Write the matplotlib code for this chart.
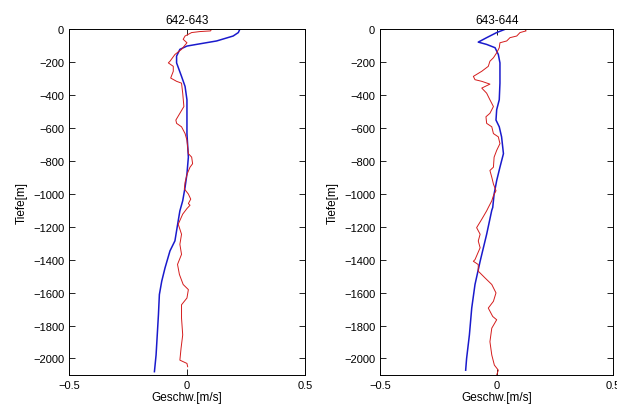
import numpy as np
import matplotlib.pyplot as plt

plt.rcParams['font.family'] = ['Liberation Sans', 'DejaVu Sans']

# Profile 642-643: velocity (m/s) vs depth (m)
blue1_v = [0.225, 0.218, 0.196, 0.126, 0.04, 0.0, -0.03, -0.044, -0.044, -0.023, -0.008, 0.0,
           0.0, 0.006, 0.0, -0.008, -0.018, -0.03, -0.037, -0.051, -0.072, -0.093, -0.107,
           -0.117, -0.121, -0.126, -0.131, -0.138]
blue1_z = [0, -22, -43, -73, -94, -104, -124, -165, -206, -288, -349, -430,
           -635, -778, -880, -961, -1043, -1104, -1164, -1286, -1347, -1450, -1531,
           -1612, -1735, -1857, -1979, -2080]

red1_v = [0.105, 0.1, 0.055, 0.02, -0.008, -0.016, 0.0, -0.023, -0.051, -0.072, -0.079, -0.058,
          -0.058, -0.069, -0.044, -0.023, -0.018, -0.013, -0.03, -0.047, -0.044, -0.023, -0.008,
          0.0, 0.006, 0.02, 0.024, 0.013, 0.001, -0.008, -0.011, 0.006, 0.016, 0.006, 0.013,
          0.0, -0.018, -0.037, -0.023, -0.03, -0.023, -0.04, -0.032, -0.016, 0.006, 0.0,
          -0.023, -0.023, -0.018, -0.025, -0.03, 0.0, 0.003]
red1_z = [0, -12, -16, -22, -43, -63, -84, -124, -155, -196, -206, -227,
          -257, -298, -318, -329, -390, -471, -512, -553, -573, -594, -635,
          -675, -757, -778, -818, -839, -880, -931, -971, -1002, -1033, -1060, -1070,
          -1090, -1124, -1185, -1246, -1307, -1368, -1429, -1490, -1551, -1582, -1633,
          -1674, -1755, -1857, -1938, -2010, -2030, -2050]

# Profile 643-644
blue2_v = [0.04, 0.0, -0.043, -0.079, -0.043, -0.007, 0.007, 0.014, 0.014, 0.011, 0.0, -0.003,
           0.011, 0.021, 0.029, 0.014, 0.0, -0.011, -0.017, -0.021, -0.043, -0.071, -0.093,
           -0.107, -0.117, -0.129, -0.133]
blue2_z = [0, -22, -53, -80, -94, -114, -155, -206, -329, -430, -490, -553,
           -594, -655, -757, -839, -920, -1002, -1084, -1100, -1246, -1410, -1551,
           -1694, -1857, -2000, -2071]

red2_v = [0.121, 0.126, 0.1, 0.086, 0.057, 0.043, 0.014, 0.011, 0.0, -0.014, -0.029, -0.036,
          -0.064, -0.1, -0.093, -0.064, -0.029, -0.064, -0.043, -0.029, -0.014, -0.029, -0.046,
          -0.043, -0.021, -0.014, 0.007, 0.014, 0.0, -0.011, -0.014, -0.029, -0.021, -0.014,
          -0.003, -0.014, -0.021, -0.036, -0.043, -0.064, -0.086, -0.071, -0.079, -0.071,
          -0.093, -0.1, -0.079, -0.079, -0.05, -0.021, -0.003, -0.014, -0.036, -0.017, 0.0,
          -0.021, -0.029, -0.021, -0.01, 0.007, 0.0]
red2_z = [0, -12, -22, -43, -53, -73, -84, -114, -145, -175, -196, -227,
          -257, -288, -308, -318, -335, -359, -390, -430, -471, -512, -533,
          -573, -594, -635, -655, -696, -737, -778, -839, -859, -900, -941,
          -982, -1012, -1043, -1084, -1104, -1155, -1206, -1246, -1287, -1328,
          -1400, -1410, -1430, -1470, -1511, -1551, -1602, -1653, -1694, -1745, -1765,
          -1816, -1898, -1979, -2040, -2071, -2100]

fig = plt.figure(figsize=(6.17, 4.10), dpi=100)
ax1 = fig.add_axes([0.112, 0.083, 0.382, 0.844])
ax2 = fig.add_axes([0.616, 0.083, 0.378, 0.844])

panels = [(ax1, '642-643', blue1_v, blue1_z, red1_v, red1_z),
          (ax2, '643-644', blue2_v, blue2_z, red2_v, red2_z)]

for ax, title, bv, bz, rv, rz in panels:
    ax.plot(bv, bz, color='#1a1acc', linewidth=1.1)
    ax.plot(rv, rz, color='#d41c1c', linewidth=0.7)
    ax.set_xlim(-0.5, 0.5)
    ax.set_ylim(-2100, 0)
    ax.set_xticks([-0.5, 0, 0.5])
    ax.set_xticklabels(['\u22120.5', '0', '0.5'])
    ax.set_yticks(np.arange(-2000, 1, 200))
    ax.tick_params(direction='in', top=True, right=True, labelsize=8, length=4, width=0.6)
    for s in ax.spines.values():
        s.set_linewidth(0.7)
    ax.set_title(title, fontsize=8.5, pad=4)
    ax.set_xlabel('Geschw.[m/s]', fontsize=8.5, labelpad=1)
    ax.set_ylabel('Tiefe[m]', fontsize=8.5, labelpad=4)

fig.savefig('out.png', dpi=100)
